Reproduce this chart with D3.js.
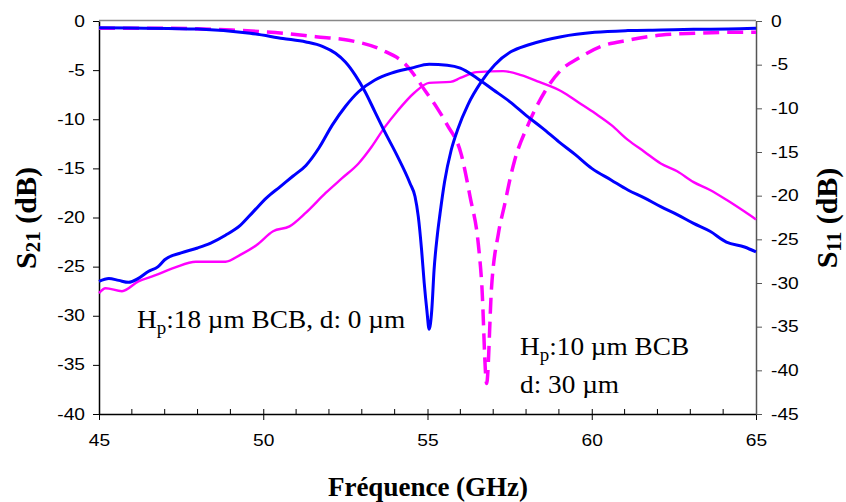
<!DOCTYPE html>
<html><head><meta charset="utf-8">
<script src="https://cdn.jsdelivr.net/npm/d3@7"></script>
<style>body{margin:0;background:#fff}svg{display:block}</style>
</head><body><svg id="c" width="846" height="502"></svg>
<script>
// ---------- data ----------
const xTicks = [45, 50, 55, 60, 65];
const leftTicks = [0, -5, -10, -15, -20, -25, -30, -35, -40];
const rightTicks = [0, -5, -10, -15, -20, -25, -30, -35, -40, -45];

// S21 (left axis), blue: Hp 18 µm BCB, d 0 µm
const s21BlueF = [45,45.3,45.6,45.9,46.2,46.5,46.8,47.0,47.5,48.0,48.4,48.85,49.3,49.7,50.1,50.5,50.9,51.3,51.7,52.1,52.5,52.9,53.4,53.9,54.5,55.05,55.6,56.0,56.5,57.0,57.5,58.0,58.5,59.0,59.5,60.0,60.6,61.1,61.6,62.1,62.6,63.1,63.6,64.1,64.65,65];
const s21BlueV = [-26.5,-26.2,-26.4,-26.6,-26.2,-25.5,-25.0,-24.3,-23.6,-23.1,-22.6,-21.8,-20.8,-19.4,-18.0,-16.9,-15.8,-14.7,-12.9,-10.6,-8.7,-7.2,-6.0,-5.3,-4.8,-4.4,-4.5,-4.8,-5.8,-7.0,-8.2,-9.6,-10.9,-12.3,-13.6,-15.0,-16.2,-17.2,-18.0,-18.9,-19.7,-20.6,-21.4,-22.5,-23.0,-23.5];

// S21 (left axis), magenta: Hp 10 µm BCB, d 30 µm
const s21MagF = [45,45.2,45.7,46.2,46.7,47.3,47.95,48.4,48.85,49.3,49.8,50.3,50.8,51.3,51.9,52.4,52.9,53.3,53.7,54.1,54.6,55.05,55.7,56.0,56.5,57.3,57.85,58.4,59.1,59.6,60.1,60.6,61.1,61.6,62.1,62.6,63.1,63.6,64.1,64.65,65];
const s21MagV = [-27.7,-27.2,-27.5,-26.5,-25.9,-25.1,-24.5,-24.5,-24.5,-23.8,-22.8,-21.4,-20.9,-19.5,-17.5,-16.0,-14.5,-12.8,-10.8,-9.1,-7.3,-6.3,-6.2,-5.8,-5.2,-5.1,-5.5,-6.2,-7.2,-8.3,-9.4,-10.6,-12.1,-13.3,-14.5,-15.3,-16.4,-17.2,-18.2,-19.4,-20.2];

// S11 (right axis), blue
const s11BlueF = [45,48.0,49.6,50.6,51.3,51.8,52.2,52.5,52.8,53.1,53.4,53.7,54.06,54.47,54.62,54.72,54.82,54.90,54.98,55.05,55.13,55.2,55.3,55.38,55.52,55.72,55.93,56.23,56.64,57.05,57.55,58.06,58.57,59.07,60.09,61.1,62.1,63.1,64.15,65];
const s11BlueV = [-0.76,-0.92,-1.4,-2.0,-2.4,-2.9,-3.7,-4.7,-6.2,-8.1,-10.4,-12.7,-15.3,-18.6,-20.1,-22.4,-26.2,-30.0,-33.1,-35.3,-33.1,-28.5,-24.5,-22.1,-18.4,-14.8,-12.3,-9.6,-6.95,-5.0,-3.5,-2.75,-2.2,-1.8,-1.3,-1.1,-1.03,-0.95,-0.92,-0.84];

// S11 (right axis), magenta dashed
const s11MagF = [45,47,49.05,50.6,51.6,52.6,53.6,54.34,54.95,55.3,55.6,56.03,56.3,56.54,56.65,56.8,56.95,57.16,57.35,57.5,57.65,58.06,58.57,59.07,59.58,60.29,61.1,62.12,63.13,64.15,65];
const s11MagV = [-0.84,-0.84,-1.03,-1.4,-1.8,-2.2,-3.3,-5.0,-8.1,-10.0,-11.9,-15.3,-20.2,-25.3,-30.0,-41.5,-30.5,-24.3,-21.0,-18.3,-16.0,-11.9,-8.1,-5.6,-4.3,-2.9,-2.2,-1.6,-1.4,-1.3,-1.3];

// ---------- layout ----------
const svg = d3.select("#c");
const L = 99, R = 756, T = 21, B = 414;
const x = d3.scaleLinear().domain([45, 65]).range([L, R]);
const yL = d3.scaleLinear().domain([-40, 0]).range([B, T]);
const yR = d3.scaleLinear().domain([-45, 0]).range([B, T]);

svg.append("line").attr("x1", L).attr("x2", R).attr("y1", T - 0.5).attr("y2", T - 0.5)
  .attr("stroke", "#888").attr("stroke-width", 1.5);

const tickFont = "'Liberation Sans', Arial, sans-serif";
const SX = 1.2;
const fmt = d => String(d);
function styleTicks(g) {
  g.selectAll(".tick text").style("font-family", tickFont).style("font-size", "16px").attr("fill", "#000");
}

// x axis
const gx = svg.append("g").attr("transform", `translate(0,${B})`);
gx.call(d3.axisBottom(x).tickValues(xTicks).tickSize(6).tickSizeOuter(0).tickFormat(fmt));
gx.select(".domain").attr("stroke", "#000").attr("stroke-width", 1.5);
gx.selectAll(".tick line").attr("y1", -5).attr("y2", 6).attr("stroke", "#000");
styleTicks(gx);
gx.selectAll(".tick text").attr("y", null).attr("dy", "0.71em")
  .attr("transform", `translate(0,21) scale(${SX},1)`);
const minor = d3.range(46, 65).filter(d => d % 5 !== 0);
svg.append("g").selectAll("line").data(minor).join("line")
  .attr("x1", d => x(d)).attr("x2", d => x(d)).attr("y1", B - 5).attr("y2", B)
  .attr("stroke", "#000");

// left axis
const gl = svg.append("g").attr("transform", `translate(${L},0)`);
gl.call(d3.axisLeft(yL).tickValues(leftTicks).tickSize(6).tickSizeOuter(0).tickFormat(fmt));
gl.select(".domain").attr("stroke", "#000").attr("stroke-width", 1.5);
styleTicks(gl);
gl.selectAll(".tick text").attr("x", null).attr("transform", `translate(-14,0) scale(${SX},1)`);

// right axis
const gr = svg.append("g").attr("transform", `translate(${R},0)`);
gr.call(d3.axisRight(yR).tickValues(rightTicks).tickSize(6).tickSizeOuter(0).tickFormat(fmt));
gr.select(".domain").attr("stroke", "#555").attr("stroke-width", 1.5);
gr.selectAll(".tick line").attr("stroke", "#555");
styleTicks(gr);
gr.selectAll(".tick text").attr("x", null).attr("transform", `translate(15,0) scale(${SX},1)`);

// ---------- curves ----------
const mk = (F, V) => F.map((f, i) => [f, V[i]]);
const lineL = d3.line().x(d => x(d[0])).y(d => yL(d[1])).curve(d3.curveMonotoneX);
const lineR = d3.line().x(d => x(d[0])).y(d => yR(d[1])).curve(d3.curveMonotoneX);

svg.append("path").attr("d", lineL(mk(s21MagF, s21MagV))).attr("fill", "none")
  .attr("stroke", "#ff00ff").attr("stroke-width", 2.4);
svg.append("path").attr("d", lineR(mk(s11MagF, s11MagV))).attr("fill", "none")
  .attr("stroke", "#ff00ff").attr("stroke-width", 3.5).attr("stroke-dasharray", "16,8");
svg.append("path").attr("d", lineL(mk(s21BlueF, s21BlueV))).attr("fill", "none")
  .attr("stroke", "#0000ff").attr("stroke-width", 3);
svg.append("path").attr("d", lineR(mk(s11BlueF, s11BlueV))).attr("fill", "none")
  .attr("stroke", "#0000ff").attr("stroke-width", 3);

// ---------- titles ----------
const serif = "'Liberation Serif', 'Times New Roman', serif";
svg.append("text").attr("x", 428).attr("y", 496).attr("text-anchor", "middle")
  .style("font-family", serif).style("font-weight", "bold").style("font-size", "27px")
  .text("Fréquence (GHz)");

function yTitle(cx, cy, sub) {
  const t = svg.append("text").attr("transform", `translate(${cx},${cy}) rotate(-90)`)
    .attr("text-anchor", "middle")
    .style("font-family", serif).style("font-weight", "bold").style("font-size", "30px");
  t.append("tspan").text("S");
  t.append("tspan").style("font-size", "21px").attr("dy", 4).text(sub);
  t.append("tspan").attr("dy", -4).text(" (dB)");
}
yTitle(36, 218, "21");
yTitle(837, 218, "11");

// ---------- annotations ----------
function annot(xp, yp, parts) {
  const t = svg.append("text").attr("transform", `translate(${xp},${yp}) scale(1.05,1)`)
    .style("font-family", serif).style("font-size", "26px").attr("fill", "#000");
  parts.forEach(p => {
    const s = t.append("tspan").text(p.t);
    if (p.sub) s.style("font-size", "18px").attr("dy", 6);
    if (p.back) s.attr("dy", -6);
  });
}
annot(137, 328, [{t: "H"}, {t: "p", sub: true}, {t: ":18 µm BCB, d: 0 µm", back: true}]);
annot(520, 355, [{t: "H"}, {t: "p", sub: true}, {t: ":10 µm BCB", back: true}]);
annot(520, 393, [{t: "d: 30 µm"}]);
</script></body></html>
